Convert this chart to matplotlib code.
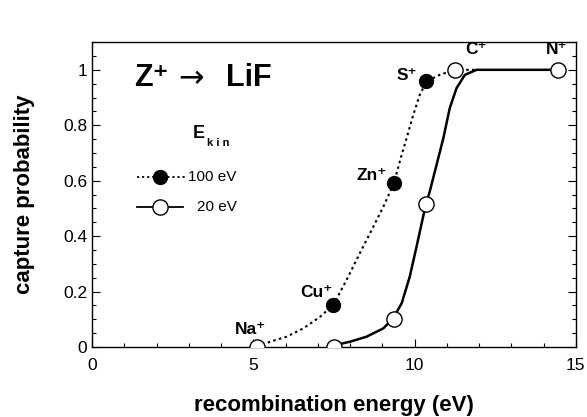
import matplotlib.pyplot as plt
from matplotlib.ticker import MultipleLocator

# ── data ─────────────────────────────────────────────────────────────────────
# measured points (recombination energy in eV, capture probability)
energy_100 = [7.47, 9.36, 10.35]
prob_100   = [0.152, 0.592, 0.958]

energy_20  = [5.11, 7.5, 9.36, 10.35, 11.25, 14.44]
prob_20    = [0.0, 0.0, 0.10, 0.516, 1.0, 1.0]

# ion labels: (text, x, y)
ion_labels = [("Na⁺", 4.9, 0.036), ("Cu⁺", 6.95, 0.17), ("Zn⁺", 8.68, 0.59),
              ("S⁺", 9.76, 0.953), ("C⁺", 11.9, 1.047), ("N⁺", 14.41, 1.047)]

# hand-drawn guide curves
guide_100_x = [5.11, 5.52, 6.03, 6.55, 7.07, 7.48, 7.89, 8.30, 8.72, 9.03, 9.36,
               9.54, 9.75, 9.96, 10.16, 10.37, 10.78, 11.25, 11.9]
guide_100_y = [0.0, 0.019, 0.037, 0.067, 0.109, 0.152, 0.242, 0.338, 0.434, 0.506, 0.591,
               0.669, 0.753, 0.838, 0.91, 0.958, 0.982, 1.0, 1.0]
guide_20_x  = [7.48, 8.0, 8.51, 9.03, 9.34, 9.60, 9.85, 10.06, 10.22, 10.35, 10.47,
               10.68, 10.89, 11.09, 11.30, 11.56, 11.92, 14.44]
guide_20_y  = [0.005, 0.019, 0.037, 0.067, 0.104, 0.158, 0.254, 0.362, 0.447, 0.516, 0.561,
               0.657, 0.753, 0.862, 0.934, 0.982, 1.0, 1.0]

plt.rcParams["font.family"] = ["Liberation Sans", "DejaVu Sans"]

fig = plt.figure(figsize=(5.87, 4.17), dpi=100)
ax = fig.add_axes([0.157, 0.168, 0.824, 0.731])

DOT = (0, (1.2, 1.6))

# ── curves and markers ───────────────────────────────────────────────────────
ax.plot(guide_100_x, guide_100_y, color="black", lw=1.5, ls=DOT, zorder=2)
ax.plot(guide_20_x, guide_20_y, color="black", lw=1.8, zorder=2)
ax.scatter(energy_100, prob_100, s=100, color="black", zorder=4)
ax.scatter(energy_20, prob_20, s=120, facecolor="white", edgecolor="black", lw=1.0, zorder=4)

for txt, x, y in ion_labels:
    ax.text(x, y, txt, ha="center", va="bottom", fontsize=12.5, fontweight="bold")

# title inside the axes (arrow drawn in DejaVu, which has a proper long arrow)
ax.text(1.3, 0.97, "Z⁺", fontsize=22, fontweight="bold", va="center")
ax.text(3.07, 0.97, "→", fontsize=22, family=["DejaVu Sans"], ha="center", va="center")
ax.text(4.15, 0.97, "LiF", fontsize=22, fontweight="bold", va="center")

# hand-made legend
ax.text(3.13, 0.77, "E", fontsize=13, fontweight="bold", ha="left", va="center")
ax.text(3.55, 0.735, "k i n", fontsize=8, fontweight="bold", ha="left", va="center")
ax.plot([1.38, 2.93], [0.614, 0.614], color="black", lw=1.3, ls=DOT)
ax.scatter([2.09], [0.614], s=100, color="black", zorder=4)
ax.text(2.98, 0.614, "100 eV", fontsize=11, va="center")
ax.plot([1.38, 2.83], [0.505, 0.505], color="black", lw=1.3)
ax.scatter([2.09], [0.505], s=120, facecolor="white", edgecolor="black", lw=1.0, zorder=4)
ax.text(3.26, 0.505, "20 eV", fontsize=11, va="center")

# ── axes ─────────────────────────────────────────────────────────────────────
ax.set_xlim(0, 15)
ax.set_ylim(0, 1.1)
ax.set_xticks([0, 5, 10, 15])
ax.set_yticks([0, 0.2, 0.4, 0.6, 0.8, 1.0])
ax.set_yticklabels(["0", "0.2", "0.4", "0.6", "0.8", "1"])
ax.xaxis.set_minor_locator(MultipleLocator(1))
ax.yaxis.set_minor_locator(MultipleLocator(0.05))
ax.tick_params(which="both", direction="in", right=True, top=False, labelsize=12.5)
ax.tick_params(which="major", length=6, width=0.8)
ax.tick_params(which="minor", length=3, width=0.8)
ax.tick_params(axis="x", pad=8)
for sp in ax.spines.values():
    sp.set_linewidth(1.0)

ax.set_xlabel("recombination energy (eV)", fontsize=16, fontweight="bold", labelpad=16)
ax.set_ylabel("capture probability", fontsize=16, fontweight="bold", labelpad=20)

fig.savefig("out.png", dpi=100)
